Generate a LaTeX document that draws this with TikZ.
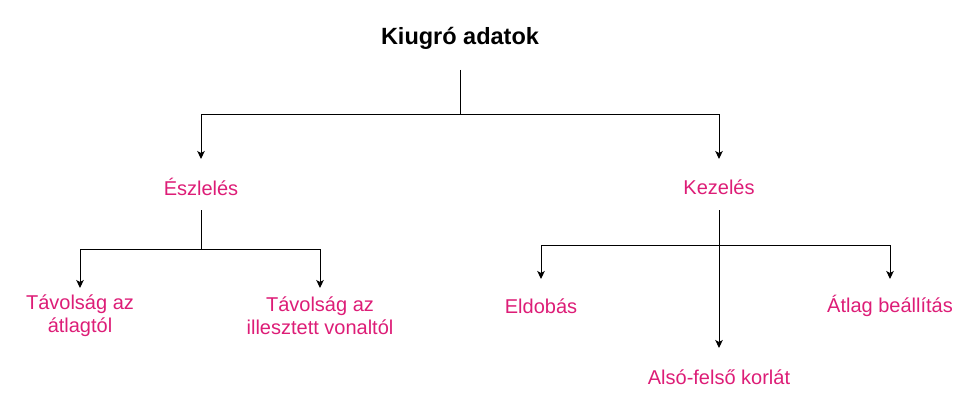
\documentclass[tikz,border=0pt]{standalone}
\usepackage{fontspec}
\setmainfont{Liberation Sans}
\usetikzlibrary{arrows.meta}
\definecolor{pinktxt}{RGB}{221,29,119}
\tikzset{
  lbl/.style={inner sep=0pt, text=pinktxt, align=center, font=\fontsize{20}{23}\selectfont},
  ttl/.style={inner sep=0pt, font=\fontsize{23.5}{27}\selectfont\bfseries},
  conn/.style={draw=black, line width=1pt},
  arr/.style={conn, -{Stealth[length=8pt,width=7.5pt,inset=2pt]}}
}
\begin{document}
\begin{tikzpicture}[x=1pt,y=1pt]
\useasboundingbox (0,0) rectangle (971,-401);
\node[ttl] (title) at (460,-38) {Kiugró adatok};
\node[lbl] (esz) at (201,-187) {Észlelés};
\node[lbl] (kez) at (719,-187) {Kezelés};
\node[lbl] (tav1) at (80,-316) {Távolság az\\átlagtól};
\node[lbl] (tav2) at (320,-316) {Távolság az\\illesztett vonaltól};
\node[lbl] (eld) at (541,-306) {Eldobás};
\node[lbl] (also) at (719,-377) {Alsó-felső korlát};
\node[lbl] (atl) at (890,-306) {Átlag beállítás};
\coordinate (j0) at (460,-115);
\coordinate (j1) at (201,-249);
\coordinate (j2) at (719,-245);
\draw[conn] ([yshift=-32pt]title.center) -- (j0);
\draw[arr] (j0) -| ([yshift=28pt]esz.center);
\draw[arr] (j0) -| ([yshift=28pt]kez.center);
\draw[conn] ([yshift=-23pt]esz.center) -- (j1);
\draw[arr] (j1) -| ([yshift=28pt]tav1.center);
\draw[arr] (j1) -| ([yshift=28pt]tav2.center);
\draw[arr] ([yshift=-23pt]kez.center) -- ([yshift=29pt]also.center);
\draw[arr] (j2) -| ([yshift=27pt]eld.center);
\draw[arr] (j2) -| ([yshift=27pt]atl.center);
\end{tikzpicture}
\end{document}
